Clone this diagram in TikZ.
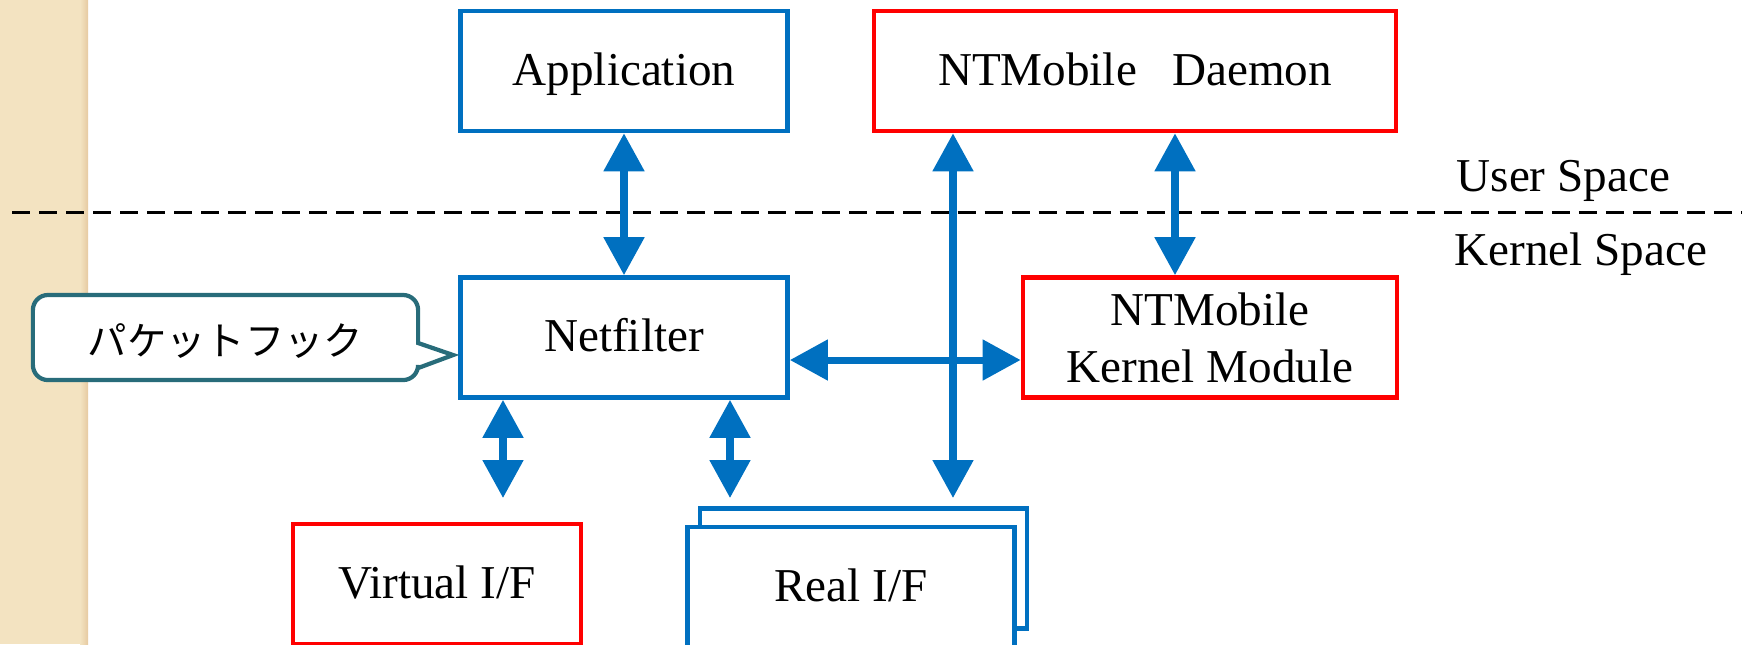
\documentclass[tikz,border=0pt]{standalone}
\usepackage{fontspec}
\setmainfont{Liberation Serif}
\newfontfamily\jpfont{Noto Sans CJK JP}
\usetikzlibrary{arrows.meta}
\definecolor{ifblue}{RGB}{0,112,192}
\definecolor{ifred}{RGB}{255,0,0}
\definecolor{hookteal}{RGB}{40,108,122}
\definecolor{sidebeige}{RGB}{243,227,193}
\begin{document}
\begin{tikzpicture}[x=0.01cm,y=-0.01cm,
	blk/.style={draw=ifblue,line width=1.3pt,fill=white,minimum height=1.2cm,inner sep=0pt,text height=0.82em,text depth=0pt,font=\fontsize{13.4}{16.2}\selectfont},
	redblk/.style={blk,draw=ifred},
	biarrow/.style={draw=ifblue,line width=2pt,>={Triangle[width=11.2pt,length=10.8pt]},<->},
	hookline/.style={draw=hookteal,line width=1.2pt,fill=white},
	lbl/.style={anchor=base west,inner sep=0pt,font=\fontsize{13.4}{16.2}\selectfont}]
					\useasboundingbox (0,0) rectangle (1742,644);
					\fill[sidebeige] (0,0) rectangle (88,644);
					\shade[left color=sidebeige,right color=sidebeige!75!brown] (80,0) rectangle (88,644);
					\draw[line width=0.85pt,dash pattern=on 0.18cm off 0.09cm] (12,212) -- (1742,212);
					\node[lbl] (user) at (1456,191) {User Space};
					\node[lbl] (kernel) at (1454,265) {Kernel Space};
					\node[blk,minimum width=3.27cm] (app) at (624,71) {Application};
					\node[redblk,minimum width=5.22cm] (daemon) at (1135,71) {NTMobile\ \ \ Daemon};
					\node[blk,minimum width=3.27cm] (netf) at (624,337.5) {Netfilter};
					\node[redblk,minimum width=3.74cm,align=center,text height=,text depth=] (kmod) at (1210,337.5) {NTMobile\\Kernel Module};
					\node[redblk,minimum width=2.88cm] (vif) at (437,584) {Virtual I/F};
					\node[blk,minimum width=3.27cm] (rifback) at (863.5,568.5) {};
					\node[blk,minimum width=3.27cm] (rif) at (851,587) {Real I/F};
					\node[minimum width=3.85cm,minimum height=0.85cm,inner sep=0pt,outer sep=0pt] (hook) at (225.5,337.5) {};
					\coordinate (hooktip) at ([xshift=-0.05cm,yshift=-0.175cm]netf.west);
					\filldraw[hookline] (hooktip) -- ([yshift=-0.055cm]hook.east) [rounded corners=0.15cm] -- (hook.north east) -- (hook.north west) -- (hook.south west) -- (hook.south east) [sharp corners] -- ([yshift=-0.305cm]hook.east) -- cycle;
					\node[font=\jpfont\fontsize{11.2}{13}\selectfont] (hooktext) at ([yshift=-0.04cm]hook.center) {パケットフック};
					\coordinate (vdown) at (503,498);
					\coordinate (rdown) at (730,498);
					\coordinate (ldown) at (953,498);
					\coordinate (kcol) at (1175,0);
					\coordinate (hrow) at (0,360);
					\draw[biarrow] (app.south) -- (netf.north);
					\draw[biarrow] (daemon.south -| kcol) -- (kmod.north -| kcol);
					\draw[biarrow] (netf.east |- hrow) -- (kmod.west |- hrow);
					\draw[biarrow] (daemon.south -| ldown) -- (ldown);
					\draw[biarrow] (netf.south -| vdown) -- (vdown);
					\draw[biarrow] (netf.south -| rdown) -- (rdown);
				\end{tikzpicture}
\end{document}
